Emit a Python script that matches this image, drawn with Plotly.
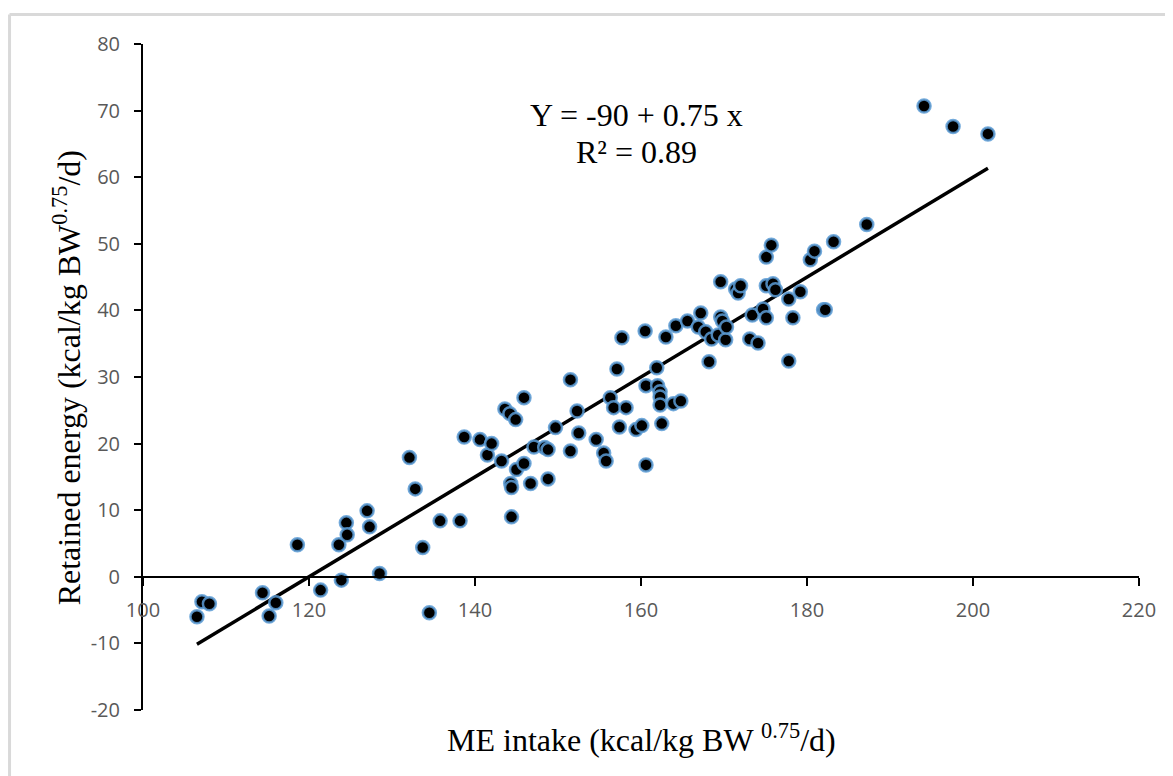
import plotly.graph_objects as go

me_intake = [106.5, 107.1, 108.0, 114.4, 116.0, 115.2, 118.6, 121.4, 123.6, 123.9,
             124.5, 124.6, 127.0, 127.3, 128.5, 132.1, 132.8, 133.7, 134.5, 135.8,
             138.2, 138.7, 140.6, 141.5, 142.0, 143.2, 143.6, 144.2, 144.9, 145.9,
             144.3, 144.4, 144.4, 145.0, 145.9, 146.7, 147.1, 148.4, 148.8, 148.8,
             149.7, 151.5, 151.5, 152.3, 152.5, 154.6, 155.5, 155.8, 156.3, 156.7,
             157.1, 157.4, 157.7, 158.2, 159.4, 160.1, 160.5, 160.6, 160.6, 161.9,
             162.0, 162.3, 162.3, 162.3, 162.5, 163.9, 164.8, 163.0, 164.2, 165.6,
             166.9, 167.2, 167.8, 168.2, 168.5, 169.3, 169.6, 169.8, 170.2, 170.3,
             169.6, 171.4, 171.7, 172.0, 173.1, 173.4, 174.1, 174.7, 175.1, 175.1,
             175.1, 175.7, 175.9, 176.2, 177.8, 177.8, 178.3, 179.2, 180.4, 180.9,
             182.0, 182.2, 183.2, 187.2, 194.1, 197.6, 201.8]
retained_energy = [-6.0, -3.75, -4.05, -2.4, -3.9, -5.9, 4.8, -2.0, 4.8, -0.5,
                   8.1, 6.3, 9.9, 7.5, 0.5, 17.9, 13.2, 4.4, -5.4, 8.4,
                   8.4, 21.0, 20.6, 18.3, 20.0, 17.4, 25.2, 24.5, 23.6, 26.9,
                   14.0, 13.4, 9.0, 16.1, 17.0, 14.0, 19.5, 19.4, 19.1, 14.7,
                   22.4, 18.9, 29.6, 24.9, 21.6, 20.6, 18.6, 17.4, 26.9, 25.4,
                   31.2, 22.5, 35.9, 25.4, 22.1, 22.7, 36.9, 28.7, 16.8, 31.4,
                   28.7, 27.8, 27.0, 25.8, 23.0, 26.0, 26.4, 36.0, 37.7, 38.4,
                   37.5, 39.6, 36.8, 32.3, 35.7, 36.3, 39.0, 38.4, 35.6, 37.5,
                   44.3, 43.2, 42.6, 43.7, 35.7, 39.3, 35.1, 40.2, 43.7, 38.9,
                   48.0, 49.8, 44.0, 43.1, 41.7, 32.4, 38.9, 42.8, 47.6, 48.9,
                   40.1, 40.1, 50.3, 52.9, 70.7, 67.6, 66.5]

intercept = -90.0
slope = 0.75
r_squared = 0.89

x_ticks = [100, 120, 140, 160, 180, 200, 220]
y_ticks = [-20, -10, 0, 10, 20, 30, 40, 50, 60, 70, 80]

x_fit = [min(me_intake), max(me_intake)]
y_fit = [intercept + slope * v for v in x_fit]

fig = go.Figure()
fig.add_trace(go.Scatter(
    x=x_fit, y=y_fit, mode="lines",
    line=dict(color="black", width=3.5), hoverinfo="skip", showlegend=False))
fig.add_trace(go.Scatter(
    x=me_intake, y=retained_energy, mode="markers",
    marker=dict(color="black", size=13,
                line=dict(color="rgba(91,155,213,0.85)", width=2.5)),
    showlegend=False))

tick_font = dict(family="Open Sans, Liberation Sans, sans-serif", size=20, color="#595959")
title_font = dict(family="Liberation Serif, Times New Roman, serif", size=32, color="black")

# page body has an 8px margin, so the figure is sized/offset to compensate
fig.update_layout(
    width=1165, height=768,
    margin=dict(l=135, r=34, t=36, b=66),
    paper_bgcolor="white", plot_bgcolor="white",
    xaxis=dict(range=[100, 220], tickvals=x_ticks, ticktext=[str(t) for t in x_ticks],
               showgrid=False, zeroline=False, showline=True, linecolor="black",
               linewidth=2, ticks="outside", ticklen=8, tickwidth=2, tickcolor="black",
               anchor="free", position=0.2, tickfont=tick_font, ticklabelstandoff=7),
    yaxis=dict(range=[-20, 80], tickvals=y_ticks, ticktext=[str(t) for t in y_ticks],
               domain=[0, 1],
               showgrid=False, zeroline=False, showline=True, linecolor="black",
               linewidth=2, ticks="outside", ticklen=7, tickwidth=2, tickcolor="black",
               tickfont=tick_font, ticklabelstandoff=10),
)

fig.add_annotation(xref="paper", yref="paper", x=0.495, y=0.8934,
                   text=f"Y = {intercept:.0f} + {slope} x", showarrow=False,
                   font=title_font, xanchor="center", yanchor="middle")
fig.add_annotation(xref="paper", yref="paper", x=0.495, y=0.8378,
                   text=f"R² = {r_squared}", showarrow=False,
                   font=title_font, xanchor="center", yanchor="middle")
fig.add_annotation(xref="paper", yref="paper", x=0.5, y=-0.042,
                   text="ME intake (kcal/kg BW <sup>0.75</sup>/d)", showarrow=False,
                   font=title_font, xanchor="center", yanchor="middle")
fig.add_annotation(xref="paper", yref="paper", x=-0.0763, y=0.498,
                   text="Retained energy (kcal/kg BW<sup>0.75</sup>/d)", showarrow=False,
                   textangle=-90, font=title_font, xanchor="center", yanchor="middle")

# light grey frame (top and left edges visible)
fig.add_shape(type="line", xref="paper", yref="paper",
              x0=-0.134, x1=1.1, y0=1.0443, y1=1.0443,
              line=dict(color="#d9d9d9", width=3), layer="below")
fig.add_shape(type="line", xref="paper", yref="paper",
              x0=-0.134, x1=-0.134, y0=1.0443, y1=-0.12,
              line=dict(color="#d9d9d9", width=3), layer="below")

fig.write_html("out.html")
